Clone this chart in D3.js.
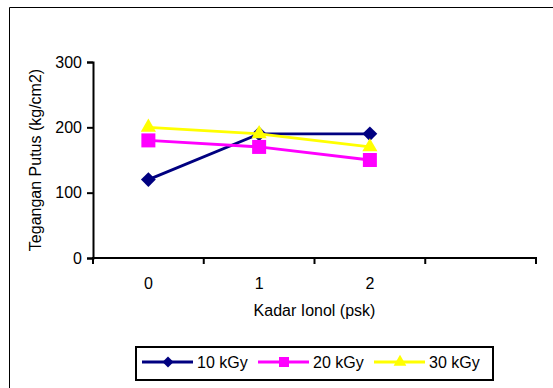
<!DOCTYPE html>
<html>
<head>
<meta charset="utf-8">
<script src="https://cdn.jsdelivr.net/npm/d3@7"></script>
<style>
  html, body { margin: 0; padding: 0; background: #fff; }
  svg { display: block; font-family: "Liberation Sans", Arial, sans-serif; }
</style>
</head>
<body>
<svg id="chart" width="553" height="388"></svg>
<script>
// Categories on the x axis (the last slot is left empty)
const categories = ["0", "1", "2", ""];
// Tensile strength for each radiation dose
const series10 = [120, 190, 190];
const series20 = [180, 170, 150];
const series30 = [200, 190, 170];
const seriesNames = ["10 kGy", "20 kGy", "30 kGy"];
const yTicks = [0, 100, 200, 300];

const seriesList = [
  { name: seriesNames[0], values: series10, color: "#000080", symbol: d3.symbolSquare, size: 110, legendSize: 60, rot: 45 },
  { name: seriesNames[1], values: series20, color: "#ff00ff", symbol: d3.symbolSquare, size: 196, legendSize: 100, rot: 0 },
  { name: seriesNames[2], values: series30, color: "#ffff00", symbol: d3.symbolTriangle, size: 100, legendSize: 70, rot: 0 }
];

const svg = d3.select("#chart");
const FS = 16;

// Outer chart-area frame
svg.append("path")
  .attr("d", "M9.5,388 V7.5 H553")
  .attr("fill", "none").attr("stroke", "#000").attr("stroke-width", 1);

const plot = { left: 93, right: 536, top: 62, bottom: 258 };

const x = d3.scaleBand().domain(categories.map((c, i) => i))
  .range([plot.left, plot.right]).paddingInner(0).paddingOuter(0);
const y = d3.scaleLinear().domain([0, 300]).range([plot.bottom, plot.top]);

// Y axis
const yAxis = svg.append("g")
  .attr("transform", `translate(${plot.left},0)`)
  .call(d3.axisLeft(y).tickValues(yTicks).tickSize(6).tickPadding(5));
yAxis.select(".domain").attr("stroke-width", 2);
yAxis.selectAll(".tick line").attr("stroke-width", 2);
yAxis.selectAll(".tick text").attr("font-size", FS).attr("fill", "#000")
  .attr("font-family", "Liberation Sans, Arial, sans-serif");

// X axis: ticks at category boundaries, labels at centers
const xg = svg.append("g");
xg.append("line")
  .attr("x1", plot.left - 1).attr("x2", plot.right + 1)
  .attr("y1", plot.bottom).attr("y2", plot.bottom)
  .attr("stroke", "#000").attr("stroke-width", 2);
const boundaries = categories.map((c, i) => x(i)).concat([x(categories.length - 1) + x.bandwidth()]);
xg.selectAll("line.tk").data(boundaries).join("line")
  .attr("class", "tk")
  .attr("x1", d => d).attr("x2", d => d)
  .attr("y1", plot.bottom).attr("y2", plot.bottom + 6)
  .attr("stroke", "#000").attr("stroke-width", 2);
xg.selectAll("text").data(categories).join("text")
  .attr("x", (d, i) => x(i) + x.bandwidth() / 2)
  .attr("y", 289)
  .attr("text-anchor", "middle")
  .attr("font-size", FS)
  .text(d => d);

// Axis titles
svg.append("text")
  .attr("x", (plot.left + plot.right) / 2).attr("y", 316)
  .attr("text-anchor", "middle").attr("font-size", FS)
  .text("Kadar Ionol (psk)");
svg.append("text")
  .attr("transform", "translate(41,160) rotate(-90)")
  .attr("text-anchor", "middle").attr("font-size", FS)
  .text("Tegangan Putus (kg/cm2)");

// Series lines and markers
const line = d3.line().x((d, i) => x(i) + x.bandwidth() / 2).y(d => y(d));
seriesList.forEach(s => {
  svg.append("path")
    .attr("d", line(s.values))
    .attr("fill", "none").attr("stroke", s.color).attr("stroke-width", 2.8);
  svg.selectAll(null).data(s.values).join("path")
    .attr("transform", (d, i) => `translate(${x(i) + x.bandwidth() / 2},${y(d)}) rotate(${s.rot})`)
    .attr("d", d3.symbol().type(s.symbol).size(s.size))
    .attr("fill", s.color);
});

// Legend
const legend = svg.append("g");
legend.append("rect")
  .attr("x", 136).attr("y", 347).attr("width", 357).attr("height", 33)
  .attr("fill", "#fff").attr("stroke", "#000").attr("stroke-width", 2);
const legendX = [142, 258, 374];
seriesList.forEach((s, i) => {
  const lx = legendX[i];
  legend.append("line")
    .attr("x1", lx).attr("x2", lx + 51).attr("y1", 362).attr("y2", 362)
    .attr("stroke", s.color).attr("stroke-width", 2.8);
  legend.append("path")
    .attr("transform", `translate(${lx + 26},362) rotate(${s.rot})`)
    .attr("d", d3.symbol().type(s.symbol).size(s.legendSize))
    .attr("fill", s.color);
  legend.append("text")
    .attr("x", lx + 55).attr("y", 368)
    .attr("font-size", FS)
    .text(s.name);
});
</script>
</body>
</html>
